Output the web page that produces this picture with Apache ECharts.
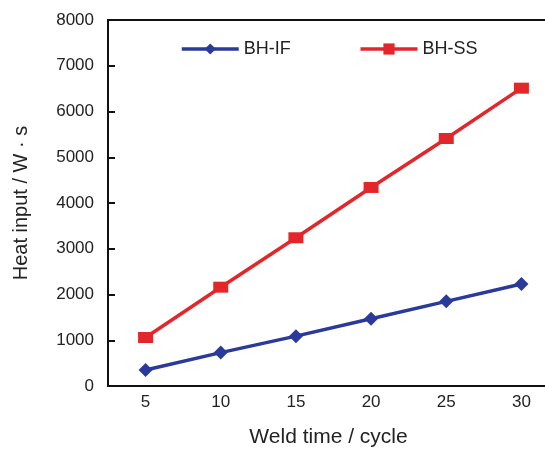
<!DOCTYPE html>
<html>
<head>
<meta charset="utf-8">
<script src="https://cdn.jsdelivr.net/npm/echarts@6/dist/echarts.min.js"></script>
<style>
  html, body { margin: 0; padding: 0; background: #fff; overflow: hidden; }
  #wrap { position: relative; width: 545px; height: 453px; overflow: hidden; }
  #main { position: absolute; left: 0; top: 0; width: 570px; height: 453px; }
</style>
</head>
<body>
<div id="wrap"><div id="main"></div></div>
<script>
// weld time categories (cycle)
let weldTime = ["5", "10", "15", "20", "25", "30"];
// heat input W·s
let bhIF = [350, 730, 1090, 1470, 1850, 2230];
let bhSS = [1060, 2160, 3240, 4340, 5410, 6510];
let yTicks = [0, 8000, 1000];

let myChart = echarts.init(document.getElementById("main"));
let font = "Liberation Sans, Arial, sans-serif";

let option = {
  animation: false,
  textStyle: { fontFamily: font },
  grid: { left: 108, top: 20, width: 451, height: 370 },
  legend: {
    left: 175, top: 35,
    itemWidth: 57, itemHeight: 14, itemGap: 68,
    lineStyle: { width: 3.5 },
    textStyle: { fontSize: 18, color: "#222", fontFamily: font },
    data: ["BH-IF", "BH-SS"]
  },
  xAxis: [
    {
      type: "category",
      data: weldTime,
      name: "Weld time / cycle",
      nameLocation: "middle",
      nameGap: 41,
      nameTextStyle: { fontSize: 21, color: "#222", padding: [0, 10, 0, 0] },
      axisLine: { lineStyle: { color: "#111", width: 2 } },
      axisTick: { inside: true, length: 7, lineStyle: { width: 2 } },
      axisLabel: { fontSize: 17, color: "#222", margin: 8 }
    },
    {
      // top frame line only
      type: "category",
      data: weldTime,
      position: "top",
      axisLine: { lineStyle: { color: "#111", width: 2 } },
      axisTick: { show: false },
      axisLabel: { show: false }
    }
  ],
  yAxis: {
    type: "value",
    min: yTicks[0], max: yTicks[1], interval: yTicks[2],
    name: "Heat input / W · s",
    nameLocation: "middle",
    nameGap: 77,
    nameTextStyle: { fontSize: 20, color: "#222" },
    axisLine: { show: true, lineStyle: { color: "#111", width: 2 } },
    axisTick: { show: true, inside: true, length: 7, lineStyle: { width: 2 } },
    axisLabel: { fontSize: 17, color: "#222", margin: 14, formatter: v => String(v) },
    splitLine: { show: false }
  },
  series: [
    {
      name: "BH-IF",
      type: "line",
      data: bhIF,
      color: "#2a3a9a",
      symbol: "diamond",
      symbolSize: 14,
      lineStyle: { width: 3.5 }
    },
    {
      name: "BH-SS",
      type: "line",
      data: bhSS,
      color: "#e3262a",
      symbol: "rect",
      symbolSize: [15, 11],
      lineStyle: { width: 3.5 }
    }
  ]
};
myChart.setOption(option);
</script>
</body>
</html>
